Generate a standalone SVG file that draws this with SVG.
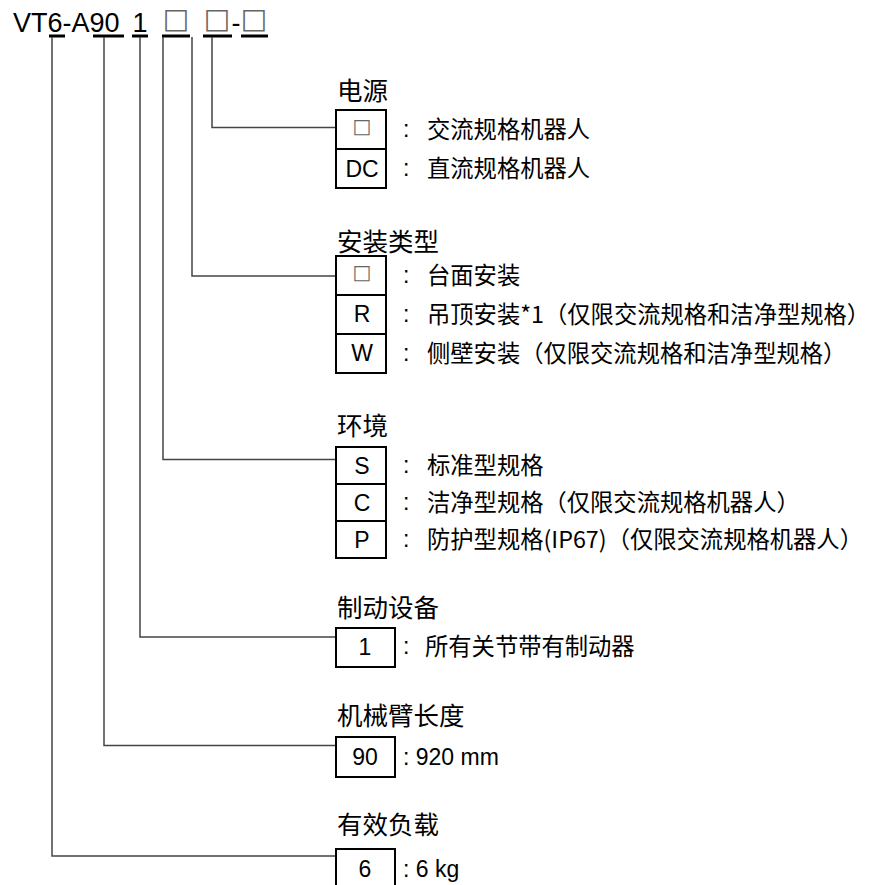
<svg xmlns="http://www.w3.org/2000/svg" width="874" height="885" viewBox="0 0 874 885">
<style>
.t{font-family:"Liberation Sans",Arial,sans-serif;fill:#000}
.cjk{font-family:"Noto Sans CJK SC","Noto Sans CJK JP",sans-serif;fill:#000}
.h{font-size:25.5px}
.d{font-size:23.3px}
.bx{font-size:23px}
.sq{font-family:"DejaVu Sans",sans-serif;fill:#666}
.box{fill:none;stroke:#000;stroke-width:2}
.conn{fill:none;stroke:#444;stroke-width:1.5}
.ul{fill:#000}
</style>
<rect width="874" height="885" fill="#fff"/>
<g id="model">
<text class="t" x="13" y="32" font-size="27">VT6-A90</text>
<text class="t" x="140" y="32" font-size="27" text-anchor="middle">1</text>
<text class="sq" x="176" y="27.5" font-size="28" text-anchor="middle">□</text>
<text class="sq" x="217" y="27.5" font-size="28" text-anchor="middle">□</text>
<text class="t" x="236" y="32" font-size="27" text-anchor="middle">-</text>
<text class="sq" x="254" y="27.5" font-size="28" text-anchor="middle">□</text>
<rect class="ul" x="49" y="34.5" width="16" height="3"/>
<rect class="ul" x="93" y="34.5" width="31" height="3"/>
<rect class="ul" x="132" y="34.5" width="16" height="3"/>
<rect class="ul" x="162" y="34.5" width="28" height="3"/>
<rect class="ul" x="203" y="34.5" width="29" height="3"/>
<rect class="ul" x="241" y="34.5" width="27" height="3"/>
</g>
<g id="connectors">
<polyline class="conn" points="212,37 212,127.5 336,127.5"/>
<polyline class="conn" points="192,37 192,276 336,276"/>
<polyline class="conn" points="163,37 163,459.5 336,459.5"/>
<polyline class="conn" points="140,37 140,637 336,637"/>
<polyline class="conn" points="104,37 104,745.5 336,745.5"/>
<polyline class="conn" points="52,37 52,856 336,856"/>
</g>
<g id="power">
<text class="cjk h" x="337" y="100">电源</text>
<rect class="box" x="336" y="110" width="50" height="78"/>
<line class="box" x1="336" y1="149" x2="386" y2="149"/>
<text class="sq" x="362" y="132.5" font-size="20" text-anchor="middle">□</text>
<text class="t bx" x="362" y="177" text-anchor="middle">DC</text>
<text class="t bx" x="403" y="137">:</text>
<text class="cjk d" x="427" y="138">交流规格机器人</text>
<text class="t bx" x="403" y="176">:</text>
<text class="cjk d" x="427" y="177">直流规格机器人</text>
</g>
<g id="mounting">
<text class="cjk h" x="337" y="251">安装类型</text>
<rect class="box" x="336" y="256" width="50" height="117"/>
<line class="box" x1="336" y1="295" x2="386" y2="295"/>
<line class="box" x1="336" y1="334" x2="386" y2="334"/>
<text class="sq" x="362" y="278.5" font-size="20" text-anchor="middle">□</text>
<text class="t bx" x="362" y="322" text-anchor="middle">R</text>
<text class="t bx" x="362" y="361" text-anchor="middle">W</text>
<text class="t bx" x="403" y="283">:</text>
<text class="cjk d" x="427" y="284">台面安装</text>
<text class="t bx" x="403" y="322">:</text>
<text class="cjk d" x="427" y="323">吊顶安装*1（仅限交流规格和洁净型规格）</text>
<text class="t bx" x="403" y="361">:</text>
<text class="cjk d" x="427" y="362">侧壁安装（仅限交流规格和洁净型规格）</text>
</g>
<g id="environment">
<text class="cjk h" x="337" y="435">环境</text>
<rect class="box" x="336" y="447" width="50" height="111"/>
<line class="box" x1="336" y1="484" x2="386" y2="484"/>
<line class="box" x1="336" y1="521" x2="386" y2="521"/>
<text class="t bx" x="362" y="474" text-anchor="middle">S</text>
<text class="t bx" x="362" y="511" text-anchor="middle">C</text>
<text class="t bx" x="362" y="548" text-anchor="middle">P</text>
<text class="t bx" x="403" y="473">:</text>
<text class="cjk d" x="427" y="474">标准型规格</text>
<text class="t bx" x="403" y="510">:</text>
<text class="cjk d" x="427" y="511">洁净型规格（仅限交流规格机器人）</text>
<text class="t bx" x="403" y="547">:</text>
<text class="cjk d" x="427" y="548">防护型规格(IP67)（仅限交流规格机器人）</text>
</g>
<g id="brake">
<text class="cjk h" x="337" y="617">制动设备</text>
<rect class="box" x="336" y="628" width="59" height="39"/>
<text class="t bx" x="365" y="655" text-anchor="middle">1</text>
<text class="t bx" x="403" y="654">:</text>
<text class="cjk d" x="425" y="655">所有关节带有制动器</text>
</g>
<g id="arm">
<text class="cjk h" x="337" y="725">机械臂长度</text>
<rect class="box" x="336" y="737" width="59" height="40"/>
<text class="t bx" x="365" y="765" text-anchor="middle">90</text>
<text class="t" x="403" y="765" font-size="23">: 920 mm</text>
</g>
<g id="payload">
<text class="cjk h" x="337" y="834">有效负载</text>
<rect class="box" x="336" y="849" width="59" height="40"/>
<text class="t bx" x="365" y="877" text-anchor="middle">6</text>
<text class="t" x="403" y="877" font-size="23">: 6 kg</text>
</g>
</svg>
